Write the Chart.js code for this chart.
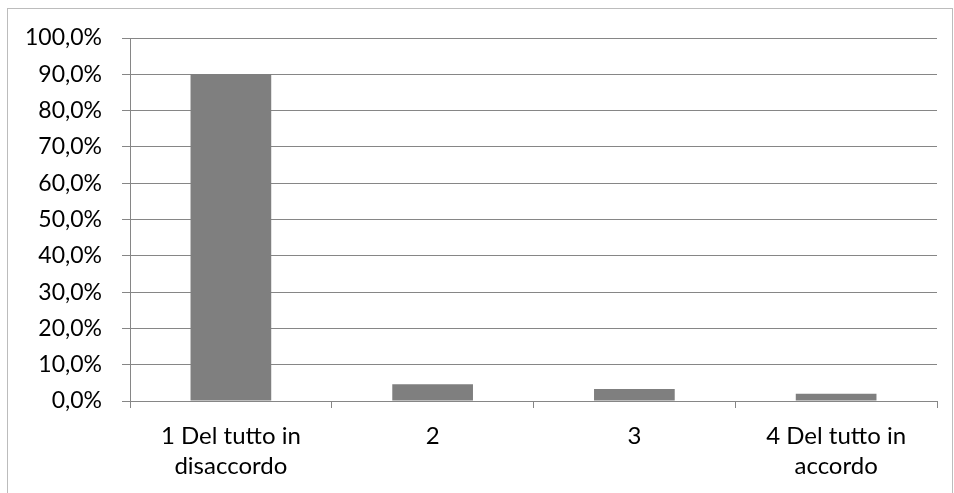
<!DOCTYPE html>
<html>
<head>
<meta charset="utf-8">
<script src="https://cdn.jsdelivr.net/npm/chart.js@4/dist/chart.umd.min.js"></script>
<style>
html,body{margin:0;padding:0;background:#fff;overflow:hidden}
#wrap{position:relative;width:954px;height:493px}
#frame{position:absolute;left:7px;top:8px;width:946px;height:500px;border:1px solid #bcbcbc;box-sizing:border-box}
canvas{position:absolute;left:0;top:0}
</style>
</head>
<body>
<div id="wrap">
<div id="frame"></div>
<canvas id="c" width="954" height="493"></canvas>
</div>
<script>
const categories = [["1 Del tutto in","disaccordo"], "2", "3", ["4 Del tutto in","accordo"]];
const values = [90.1, 4.6, 3.3, 2.0];
const yTicks = [0,10,20,30,40,50,60,70,80,90,100];

const FONT = "Lato, 'Open Sans', sans-serif";
new Chart(document.getElementById('c'), {
  type: 'bar',
  data: {
    labels: categories,
    datasets: [{
      data: values,
      backgroundColor: '#7f7f7f',
      borderWidth: 0,
      categoryPercentage: 1,
      barPercentage: 0.4
    }]
  },
  options: {
    responsive: false,
    animation: false,
    devicePixelRatio: 1,
    layout: { padding: { top: 38, right: 17, left: 0, bottom: 0 } },
    plugins: { legend: { display: false }, tooltip: { enabled: false } },
    scales: {
      x: {
        afterFit: s => { s.height = 92; },
        grid: { drawOnChartArea: false, drawTicks: true, tickLength: 7, color: '#868686', offset: true },
        border: { color: '#868686', width: 1 },
        ticks: { color: '#000', font: { family: FONT, size: 24, lineHeight: 1.22 }, padding: 14, maxRotation: 0, autoSkip: false }
      },
      y: {
        min: 0, max: 100,
        afterFit: s => { s.width = 130; },
        afterBuildTicks: s => { s.ticks = yTicks.map(v => ({ value: v })); },
        grid: { color: '#868686', tickLength: 8, drawTicks: true },
        border: { color: '#868686', width: 1 },
        ticks: {
          color: '#000', font: { family: FONT, size: 23 }, padding: 20,
          callback: v => v.toFixed(1).replace('.', ',') + '%'
        }
      }
    }
  }
});
</script>
</body>
</html>
